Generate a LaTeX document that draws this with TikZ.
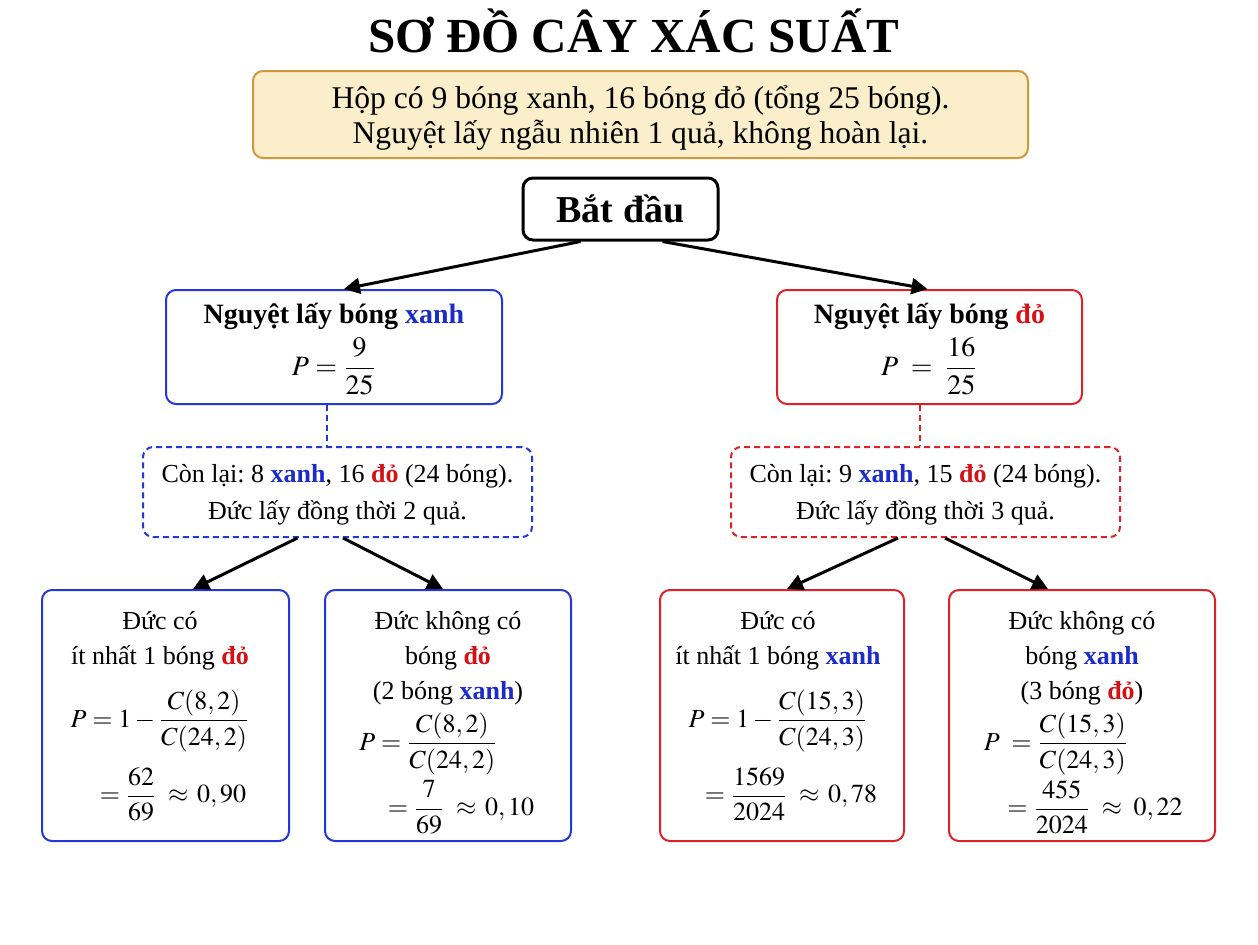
\documentclass[tikz,border=0pt]{standalone}
\usepackage{amsmath}
\usepackage{mathptmx}
\usepackage{fontspec}
\setmainfont{Liberation Serif}
\usetikzlibrary{fit,arrows.meta}
\frenchspacing

\definecolor{xanhc}{RGB}{28,44,200}
\definecolor{doc}{RGB}{212,18,22}
\definecolor{bluebox}{RGB}{36,56,214}
\definecolor{redbox}{RGB}{218,34,40}
\definecolor{infofill}{RGB}{251,238,202}
\definecolor{infoedge}{RGB}{206,152,62}

\newcommand{\txanh}{\textbf{\textcolor{xanhc}{xanh}}}
\newcommand{\tdo}{\textbf{\textcolor{doc}{đỏ}}}

\begin{document}
\begin{tikzpicture}[x=0.5pt, y=-0.5pt,
    box/.style={rounded corners=5pt, line width=1pt, inner sep=0pt},
    bluebox/.style={box, draw=bluebox},
    redbox/.style={box, draw=redbox},
    dashbox/.style={box, dash pattern=on 3pt off 2pt},
    txt/.style={align=center, inner sep=0pt, font=\fontsize{13}{16.5}\selectfont},
    arr/.style={-{Triangle[length=8pt, width=8pt]}, line width=1.5pt, black},
    link/.style={line width=1pt, dash pattern=on 3pt off 2pt}]

    % Page frame
    \useasboundingbox (0,0) rectangle (1258,944);
    \fill[white] (0,0) rectangle (1258,944);

    % Title
    \node[inner sep=0pt, font=\fontsize{24.5}{28}\selectfont\bfseries] (title) at (634,31) {SƠ ĐỒ CÂY XÁC SUẤT};

    % Info box
    \node[box, draw=infoedge, fill=infofill, fit={(253,71) (1028,158)}] (info) {};
    \node[txt, font=\fontsize{15.8}{17.5}\selectfont] (info-txt) at ([yshift=-1.5pt]info.center)
        {Hộp có 9 bóng xanh, 16 bóng đỏ (tổng 25 bóng).\\ Nguyệt lấy ngẫu nhiên 1 quả, không hoàn lại.};

    % Start
    \node[box, draw=black, line width=1.5pt, fill=white, fit={(523,178) (718,240)}] (start) {};
    \node[txt, font=\fontsize{19}{22}\selectfont\bfseries] (start-txt) at (start.center) {Bắt đầu};

    % Level 1: Nguyet
    \node[bluebox, fit={(166,290) (502,404)}] (nx) {};
    \node[txt, font=\fontsize{14}{16}\selectfont] (nx-txt) at ([yshift=-1pt]nx.center)
        {\textbf{Nguyệt lấy bóng \textcolor{xanhc}{xanh}}\\[3pt] $P=\dfrac{9}{25}$};
    \node[redbox, fit={(777,290) (1082,404)}] (nd) {};
    \node[txt, font=\fontsize{14}{16}\selectfont] (nd-txt) at ([yshift=-1pt]nd.center)
        {\textbf{Nguyệt lấy bóng \textcolor{doc}{đỏ}}\\[3pt] $P\;=\;\dfrac{16}{25}$};

    % Level 2: con lai
    \node[dashbox, draw=bluebox, fit={(143,447) (532,537)}] (cx) {};
    \node[txt] (cx-txt) at ([yshift=-1.5pt]cx.center)
        {Còn lại: 8 \txanh, 16 \tdo{} (24 bóng).\\[2pt] Đức lấy đồng thời 2 quả.};
    \node[dashbox, draw=redbox, fit={(731,447) (1120,537)}] (cd) {};
    \node[txt] (cd-txt) at ([yshift=-1.5pt]cd.center)
        {Còn lại: 9 \txanh, 15 \tdo{} (24 bóng).\\[2pt] Đức lấy đồng thời 3 quả.};

    % Level 3: Duc
    \node[bluebox, fit={(42,590) (289,841)}] (xa) {};
    \node[txt, anchor=north] (xa-txt) at (160,611)
        {Đức có\\[1pt] ít nhất 1 bóng \tdo\\[9pt]
         $P=1-\dfrac{C(8,2)}{C(24,2)}$\\[7pt]
         \hspace*{1em}$=\dfrac{62}{69}\;\approx\,0,90$};
    \node[bluebox, fit={(325,590) (571,841)}] (xb) {};
    \node[txt, anchor=north] (xb-txt) at (448,611)
        {Đức không có\\[1pt] bóng \tdo\\[1pt] (2 bóng \txanh)\\[3pt]
         \hspace*{-1.5em}$P=\dfrac{C(8,2)}{C(24,2)}$\\[2pt]
         \hspace*{1em}$=\dfrac{7}{69}\;\approx\,0,10$};
    \node[redbox, fit={(660,590) (904,841)}] (da) {};
    \node[txt, anchor=north] (da-txt) at (778,611)
        {Đức có\\[1pt] ít nhất 1 bóng \txanh\\[9pt]
         $P=1-\dfrac{C(15,3)}{C(24,3)}$\\[7pt]
         \hspace*{1em}$=\dfrac{1569}{2024}\;\approx\,0,78$};
    \node[redbox, fit={(949,590) (1215,841)}] (db) {};
    \node[txt, anchor=north] (db-txt) at (1082,611)
        {Đức không có\\[1pt] bóng \txanh\\[1pt] (3 bóng \tdo)\\[3pt]
         \hspace*{-2em}$P\;=\dfrac{C(15,3)}{C(24,3)}$\\[2pt]
         \hspace*{1em}$=\dfrac{455}{2024}\;\approx\;0,22$};

    % Arrows
    \draw[arr] ([xshift=-20pt]start.south) -- ([xshift=5pt]nx.north);
    \draw[arr] ([xshift=21pt]start.south) -- ([xshift=-1pt]nd.north);
    \draw[link, bluebox] ([xshift=-3.5pt]nx.south) -- ([xshift=-3.5pt]nx.south |- cx.north);
    \draw[link, redbox] ([xshift=-5pt]nd.south) -- ([xshift=-5pt]nd.south |- cd.north);
    \draw[arr] ([xshift=-20pt]cx.south) -- ([xshift=13.75pt]xa.north);
    \draw[arr] ([xshift=2.75pt]cx.south) -- ([xshift=-2.5pt]xb.north);
    \draw[arr] ([xshift=-13.75pt]cd.south) -- ([xshift=2.5pt]da.north);
    \draw[arr] ([xshift=9.75pt]cd.south) -- ([xshift=-17pt]db.north);

\end{tikzpicture}
\end{document}
